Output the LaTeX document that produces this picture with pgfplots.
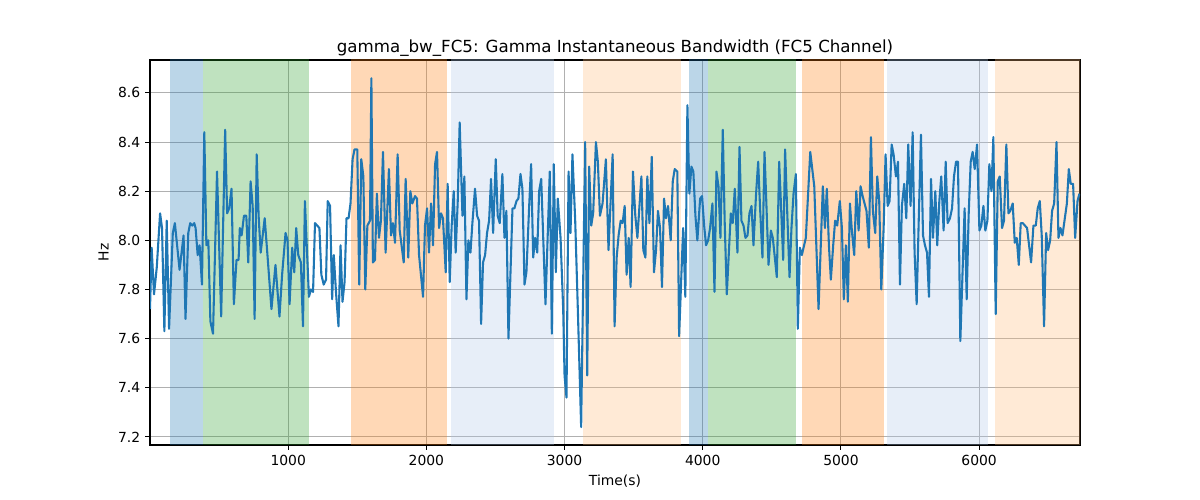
\documentclass[border=0pt]{standalone}
\usepackage{pgfplots}
\pgfplotsset{compat=1.18}
\usepackage{fontspec}
\setmainfont{DejaVu Sans}
\definecolor{tabblue}{HTML}{1F77B4}
\definecolor{tabgreen}{HTML}{2CA02C}
\definecolor{taborange}{HTML}{FF7F0E}
\definecolor{ltblue}{HTML}{AEC7E8}
\definecolor{ltorange}{HTML}{FFBB78}
\definecolor{gridgray}{HTML}{B0B0B0}
\begin{document}
\begin{tikzpicture}
\path[use as bounding box] (-108bp,-39.6bp) rectangle (756bp,320.4bp);
\begin{axis}[
  at={(0,0)}, anchor=south west,
  scale only axis, width=669.6bp, height=277.2bp,
  xmin=0, xmax=6730, ymin=7.167, ymax=8.734,
  xtick={1000,2000,3000,4000,5000,6000},
  ytick={7.2,7.4,7.6,7.8,8.0,8.2,8.4,8.6},
  yticklabel style={/pgf/number format/.cd, fixed, fixed zerofill, precision=1},
  xticklabel style={/pgf/number format/.cd, 1000 sep={}},
  /pgf/number format/assume math mode=true,
  tick pos=left, tick align=outside,
  major tick length=3.5bp,
  every tick/.style={black, line width=0.8bp},
  axis line style={black, line width=0.8bp},
  grid=major,
  major grid style={gridgray, line width=0.8bp},
  ticklabel style={font=\fontsize{10bp}{12bp}\selectfont},
  label style={font=\fontsize{10bp}{12bp}\selectfont},
  title style={font=\fontsize{12bp}{14bp}\selectfont, yshift=-7bp},
  title={gamma\_bw\_FC5: Gamma Instantaneous Bandwidth (FC5 Channel)},
  xlabel={Time(s)}, ylabel={Hz},
]
\addplot[draw=none, fill=tabblue, fill opacity=0.3] coordinates {(146,7) (146,9) (386,9) (386,7)} -- cycle;
\addplot[draw=none, fill=tabgreen, fill opacity=0.3] coordinates {(386,7) (386,9) (1148,9) (1148,7)} -- cycle;
\addplot[draw=none, fill=taborange, fill opacity=0.3] coordinates {(1454,7) (1454,9) (2152,9) (2152,7)} -- cycle;
\addplot[draw=none, fill=ltblue, fill opacity=0.3] coordinates {(2181,7) (2181,9) (2925,9) (2925,7)} -- cycle;
\addplot[draw=none, fill=ltorange, fill opacity=0.3] coordinates {(3137,7) (3137,9) (3841,9) (3841,7)} -- cycle;
\addplot[draw=none, fill=tabblue, fill opacity=0.3] coordinates {(3899,7) (3899,9) (4037,9) (4037,7)} -- cycle;
\addplot[draw=none, fill=tabgreen, fill opacity=0.3] coordinates {(4037,7) (4037,9) (4677,9) (4677,7)} -- cycle;
\addplot[draw=none, fill=taborange, fill opacity=0.3] coordinates {(4717,7) (4717,9) (5310,9) (5310,7)} -- cycle;
\addplot[draw=none, fill=ltblue, fill opacity=0.3] coordinates {(5334,7) (5334,9) (6062,9) (6062,7)} -- cycle;
\addplot[draw=none, fill=ltorange, fill opacity=0.3] coordinates {(6118,7) (6118,9) (6800,9) (6800,7)} -- cycle;
\addplot[tabblue, line width=1.5bp, line join=round] coordinates {
(0,7.72)(12,7.97)(29,7.78)(49,7.89)(73,8.11)(87,8.05)(104,7.63)(121,8.08)(138,7.64)(165,8.03)(180,8.07)(214,7.88)(243,8.02)(257,7.68)(277,8.03)(291,8.07)(306,8.06)(320,8.07)(330,8.05)(345,7.94)(359,7.98)(376,7.82)(393,8.44)(408,7.98)(422,8.00)(437,7.67)(456,7.62)(485,8.28)(515,7.69)(544,8.45)(558,8.11)(573,8.13)(590,8.21)(607,7.74)(626,7.92)(641,7.92)(650,8.05)(663,8.02)(680,8.10)(697,8.10)(711,7.91)(728,8.24)(743,8.14)(757,7.68)(772,8.35)(786,8.10)(801,7.95)(830,8.09)(850,7.94)(879,7.72)(908,7.90)(937,7.69)(956,7.86)(981,8.03)(995,8.00)(1010,7.74)(1029,7.97)(1044,7.87)(1058,8.05)(1073,7.94)(1092,7.91)(1107,7.65)(1121,8.16)(1150,7.77)(1165,7.80)(1180,7.79)(1194,8.07)(1226,8.05)(1240,7.86)(1257,7.82)(1274,7.84)(1286,8.16)(1303,8.14)(1318,7.76)(1330,7.94)(1347,7.78)(1364,7.65)(1379,7.98)(1393,7.75)(1408,7.83)(1422,8.09)(1437,8.09)(1451,8.15)(1466,8.33)(1480,8.37)(1500,8.37)(1514,7.82)(1529,8.33)(1544,8.26)(1558,7.80)(1573,8.06)(1592,8.08)(1602,8.66)
(1613,7.91)(1628,7.92)(1642,8.19)(1657,8.01)(1671,8.08)(1686,8.36)(1705,7.95)(1729,8.29)(1744,8.02)(1758,8.07)(1773,7.99)(1792,8.35)(1807,8.04)(1836,7.91)(1850,8.25)(1869,7.93)(1884,8.20)(1898,8.15)(1918,8.18)(1932,8.17)(1947,7.94)(1976,7.77)(1990,8.06)(2005,8.13)(2019,7.95)(2034,8.15)(2048,7.98)(2063,8.31)(2077,8.36)(2092,8.05)(2106,8.11)(2120,8.09)(2140,7.87)(2154,8.23)(2169,7.83)(2183,8.06)(2198,8.20)(2212,7.95)(2227,8.16)(2241,8.48)(2261,8.10)(2275,8.26)(2290,7.76)(2304,8.00)(2319,7.95)(2333,8.07)(2352,8.21)(2367,8.10)(2381,8.08)(2396,7.66)(2410,7.91)(2425,7.94)(2439,8.03)(2454,8.08)(2468,8.25)(2483,8.03)(2502,8.33)(2516,8.10)(2531,8.07)(2550,8.27)(2565,8.01)(2579,8.12)(2594,7.60)(2623,8.13)(2637,8.13)(2652,8.16)(2666,8.17)(2681,8.27)(2695,8.21)(2710,7.82)(2724,7.87)(2744,8.14)(2758,8.31)(2773,7.93)(2787,8.01)(2802,7.95)(2816,8.20)(2831,8.25)(2862,7.74)(2893,8.28)(2908,7.62)(2922,8.31)(2937,7.87)(2951,8.17)(2971,8.01)(2990,7.72)(3000,7.45)(3014,7.36)(3029,8.28)(3043,8.03)(3057,8.35)(3077,8.08)(3096,7.72)(3120,7.24)(3149,8.40)(3164,7.45)(3178,8.30)(3193,8.06)(3207,8.11)(3227,8.40)(3241,8.32)(3256,8.10)(3275,8.15)(3299,8.33)(3318,7.96)
(3348,8.35)(3362,7.65)(3377,7.93)(3391,8.02)(3406,8.08)(3420,8.07)(3435,8.14)(3449,7.86)(3464,8.01)(3478,7.81)(3495,8.28)(3512,8.10)(3527,8.01)(3556,8.26)(3570,7.96)(3585,7.93)(3599,8.26)(3614,8.07)(3631,8.34)(3647,7.87)(3662,7.96)(3676,8.12)(3691,8.05)(3705,7.81)(3720,8.17)(3734,8.09)(3749,8.14)(3768,8.00)(3783,8.24)(3797,8.29)(3816,8.28)(3829,7.61)(3858,8.05)(3874,7.77)(3889,8.55)(3903,8.19)(3918,8.30)(3932,8.28)(3947,8.10)(3961,8.00)(3981,8.17)(3995,8.18)(4010,8.06)(4024,7.98)(4039,8.00)(4053,8.05)(4070,8.15)(4085,7.79)(4099,8.28)(4114,8.22)(4128,8.01)(4145,8.45)(4159,8.07)(4174,7.78)(4188,7.94)(4203,8.11)(4217,8.07)(4232,8.21)(4251,7.95)(4266,8.38)(4280,8.08)(4295,8.06)(4309,8.01)(4324,8.02)(4338,8.11)(4353,8.14)(4367,7.98)(4386,8.19)(4401,8.32)(4415,8.13)(4432,7.93)(4447,8.36)(4461,8.14)(4476,7.90)(4493,8.04)(4507,8.01)(4536,7.85)(4553,8.32)(4568,8.12)(4582,7.92)(4596,8.37)(4611,8.12)(4628,7.85)(4642,8.05)(4657,8.19)(4674,8.27)(4688,7.64)(4703,7.97)(4717,7.94)(4746,8.01)(4778,8.36)(4807,8.22)(4838,7.72)(4869,8.22)(4884,8.05)(4898,8.21)(4913,7.98)(4927,7.84)
(4944,7.98)(4958,8.08)(4973,8.06)(4992,8.16)(5007,8.05)(5021,7.76)(5036,7.98)(5050,7.75)(5065,8.15)(5079,8.04)(5096,7.94)(5111,8.20)(5128,8.04)(5142,8.22)(5157,8.18)(5185,8.12)(5202,7.97)(5217,8.42)(5231,8.12)(5248,8.03)(5263,8.26)(5277,8.16)(5292,7.80)(5309,8.05)(5323,8.35)(5338,8.14)(5352,8.16)(5367,8.39)(5381,8.35)(5398,8.26)(5413,8.32)(5427,7.82)(5441,8.14)(5458,8.23)(5473,8.09)(5487,8.39)(5504,8.14)(5519,8.44)(5533,7.95)(5548,7.74)(5562,8.06)(5579,8.43)(5594,8.02)(5608,7.98)(5623,7.95)(5637,7.77)(5652,8.25)(5666,8.01)(5683,8.20)(5697,7.98)(5712,8.16)(5726,8.26)(5743,8.04)(5758,8.32)(5772,8.07)(5789,8.09)(5804,8.13)(5818,8.26)(5833,8.32)(5847,8.32)(5864,7.59)(5895,8.13)(5910,7.76)(5924,8.10)(5939,8.32)(5953,8.36)(5968,8.29)(5985,8.39)(6002,8.04)(6016,8.06)(6031,8.14)(6045,8.04)(6060,8.08)(6074,8.31)(6089,8.20)(6103,8.42)(6120,7.70)(6135,8.24)(6149,8.26)(6166,8.05)(6180,8.08)(6197,8.39)(6212,8.11)(6226,8.12)(6243,8.15)(6258,7.99)(6272,8.01)(6287,7.90)(6301,8.07)(6316,8.07)(6347,8.05)(6376,7.91)(6393,8.06)(6410,8.06)(6424,8.13)(6439,8.16)(6453,8.02)(6470,7.65)(6485,8.03)(6499,7.96)(6514,8.00)(6528,8.12)(6543,8.15)(6560,8.40)(6574,8.01)(6589,8.05)(6603,8.02)(6635,8.15)(6649,8.29)(6663,8.23)(6680,8.23)(6695,8.01)(6712,8.16)(6726,8.19)
};
\end{axis}
\end{tikzpicture}
\end{document}
